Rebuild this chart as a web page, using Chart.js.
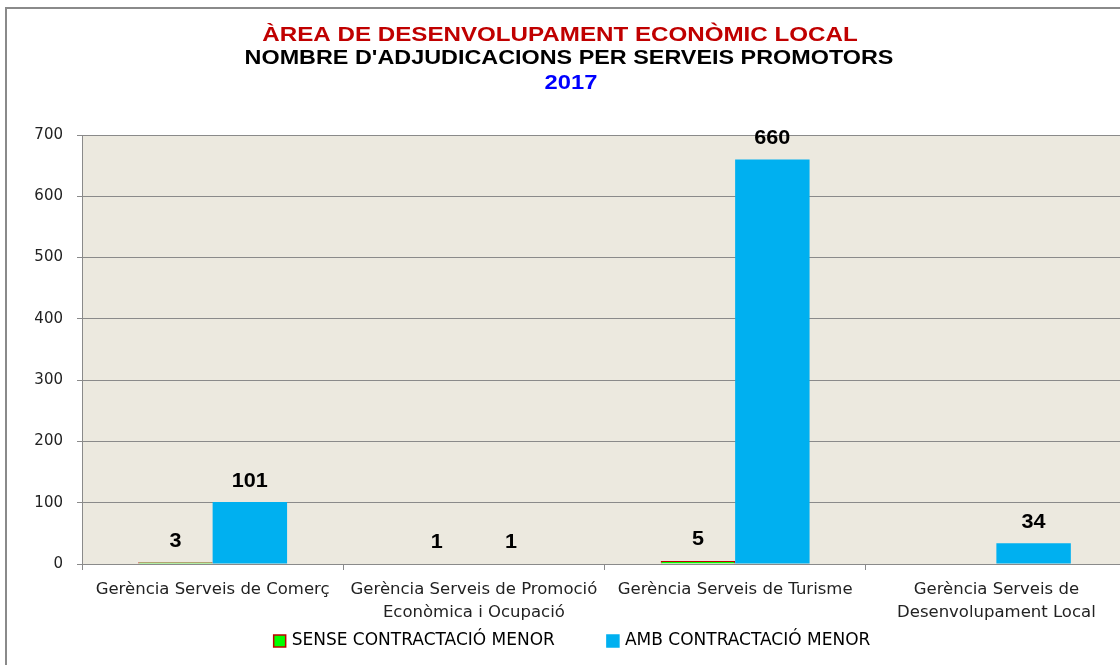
<!DOCTYPE html>
<html>
<head>
<meta charset="utf-8">
<script src="https://cdn.jsdelivr.net/npm/chart.js@4"></script>
<style>
  html, body { margin: 0; padding: 0; background: #fff; overflow: hidden; }
  #marc { position: absolute; left: 5px; top: 7px; width: 1200px; height: 700px; border: 2px solid #8a8a8a; }
  #caixa { position: absolute; left: 0; top: 0; width: 1127px; height: 665px; }
</style>
</head>
<body>
<div id="marc"></div>
<div id="caixa"><canvas id="grafic" width="1127" height="665"></canvas></div>
<script>
// dades
const serveis = [
  ["Gerència Serveis de Comerç"],
  ["Gerència Serveis de Promoció", "Econòmica i Ocupació"],
  ["Gerència Serveis de Turisme"],
  ["Gerència Serveis de", "Desenvolupament Local"],
];
const senseContractacio = [3, 1, 5, 0];
const ambContractacio = [101, 1, 660, 34];
const nomsSeries = ["SENSE CONTRACTACIÓ MENOR", "AMB CONTRACTACIÓ MENOR"];
const ticksY = [0, 100, 200, 300, 400, 500, 600, 700];
const titols = ["ÀREA DE DESENVOLUPAMENT ECONÒMIC LOCAL", "NOMBRE D'ADJUDICACIONS PER SERVEIS PROMOTORS", "2017"];

const gris = "#8a8a8a";
const verd = "#00ff00";
const vermell = "#c00000";
const blau = "#00b0f0";

// fons de l'area de dibuix
const fons = {
  id: "fons",
  beforeDraw(chart) {
    const a = chart.chartArea;
    const c = chart.ctx;
    c.save();
    c.fillStyle = "#ece9df";
    c.fillRect(a.left, a.top, a.right - a.left, a.bottom - a.top);
    c.restore();
  },
};

// titol de tres linies (una mica eixamplat, com a l'original)
const titol = {
  id: "titol",
  afterDraw(chart) {
    const c = chart.ctx;
    const colors = [vermell, "#000000", "#0000ff"];
    const cx = [560, 569, 571];
    const cy = [35, 58, 83];
    const sx = [1.15, 1.113, 1.13];
    c.save();
    c.font = "bold 21px 'Liberation Sans'";
    c.textAlign = "center";
    c.textBaseline = "middle";
    titols.forEach((t, i) => {
      c.save();
      c.translate(cx[i], cy[i]);
      c.scale(sx[i], 1);
      c.fillStyle = colors[i];
      c.fillText(t, 0, 0);
      c.restore();
    });
    c.restore();
  },
};

// etiquetes de valor
const etiquetes = {
  id: "etiquetes",
  afterDatasetsDraw(chart) {
    const c = chart.ctx;
    c.save();
    c.font = "bold 20px 'Liberation Sans'";
    c.fillStyle = "#000";
    c.textAlign = "center";
    c.textBaseline = "middle";
    chart.data.datasets.forEach((ds, i) => {
      chart.getDatasetMeta(i).data.forEach((bar, j) => {
        if (ds.data[j] > 0) {
          c.save();
          c.translate(bar.x, bar.y - 21);
          c.scale(1.08, 1);
          c.fillText(ds.data[j], 0, 0);
          c.restore();
        }
      });
    });
    c.restore();
  },
};

// llegenda a mida
const llegenda = {
  id: "llegenda",
  afterDraw(chart) {
    const c = chart.ctx;
    const caixes = [[verd, vermell], [blau, blau]];
    c.save();
    c.font = "17px 'DejaVu Sans'";
    c.textBaseline = "middle";
    const amples = nomsSeries.map(t => 12 + 6 + c.measureText(t).width);
    const total = amples[0] + amples[1] + 52;
    let x = 572 - total / 2;
    const y = 641;
    nomsSeries.forEach((t, i) => {
      c.fillStyle = caixes[i][0];
      c.fillRect(x, y - 6, 12, 12);
      c.strokeStyle = caixes[i][1];
      c.lineWidth = 1.5;
      c.strokeRect(x, y - 6, 12, 12);
      c.fillStyle = "#000";
      c.fillText(t, x + 18, y);
      x += amples[i] + 52;
    });
    c.restore();
  },
};

new Chart(document.getElementById("grafic"), {
  type: "bar",
  data: {
    labels: serveis,
    datasets: [
      {
        label: nomsSeries[0],
        data: senseContractacio,
        backgroundColor: verd,
        borderColor: vermell,
        borderWidth: 1,
      },
      {
        label: nomsSeries[1],
        data: ambContractacio,
        backgroundColor: blau,
        borderWidth: 0,
      },
    ],
  },
  options: {
    responsive: false,
    animation: false,
    layout: { padding: { top: 135, right: 0, bottom: 43, left: 0 } },
    datasets: { bar: { categoryPercentage: 0.57, barPercentage: 1 } },
    scales: {
      x: {
        afterFit(s) { s.height = 58; },
        grid: { display: true, drawOnChartArea: false, color: gris, tickLength: 6, offset: true },
        border: { color: gris },
        ticks: { color: "#222", font: { family: "'DejaVu Sans'", size: 16.5, lineHeight: "23px" }, padding: 8 },
      },
      y: {
        min: 0,
        max: 700,
        afterFit(s) { s.width = 82; },
        afterBuildTicks(s) { s.ticks = ticksY.map(v => ({ value: v })); },
        grid: { color: gris, tickLength: 5 },
        border: { color: gris },
        ticks: { color: "#222", font: { family: "'DejaVu Sans'", size: 15 }, padding: 14 },
      },
    },
    plugins: {
      title: { display: false },
      legend: { display: false },
      tooltip: { enabled: false },
    },
  },
  plugins: [fons, titol, etiquetes, llegenda],
});
</script>
</body>
</html>
